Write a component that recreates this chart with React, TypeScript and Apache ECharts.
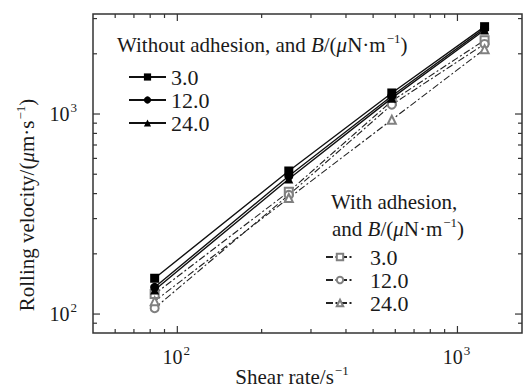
import React, { useEffect, useRef } from "react";
import * as echarts from "echarts";

// ---- data ----
const shearRate = [83, 250, 583, 1250];
const withoutAdhesion3 = [151, 519, 1274, 2733];
const withoutAdhesion12 = [136, 490, 1230, 2680];
const withoutAdhesion24 = [132, 473, 1200, 2630];
const withAdhesion3 = [126, 409, 1161, 2340];
const withAdhesion12 = [107, 394, 1113, 2240];
const withAdhesion24 = [116, 380, 936, 2110];

const X_MIN = 50;
const X_MAX = 1700;
const Y_MIN = 80.4;
const Y_MAX = 3162;
const xMajorTicks = [100, 1000];
const xMinorTicks = [60, 70, 80, 90, 200, 300, 400, 500, 600, 700, 800, 900];
const yMajorTicks = [100, 1000];
const yMinorTicks = [90, 200, 300, 400, 500, 600, 700, 800, 900, 2000, 3000];

const FONT = "Liberation Serif";
const INK = "#1a1a1a";

const pair = (xs: number[], ys: number[]) => xs.map((x, i) => [x, ys[i]]);

let measureCtx: CanvasRenderingContext2D | null = null;
const measure = (font: string, text: string) => {
  if (!measureCtx) measureCtx = document.createElement("canvas").getContext("2d");
  if (!measureCtx) return text.length * 9;
  measureCtx.font = font;
  return measureCtx.measureText(text).width;
};

type Part = { t: string; it?: boolean; sup?: boolean };
const SIZE = 21;
const SUP = 13;
const fontOf = (p: Part) => `${p.it ? "italic " : ""}${p.sup ? SUP : SIZE}px ${FONT}`;

// A line of text made of plain runs, with italic letters and superscripts
const textRun = (x: number, y: number, parts: Part[], center = false, rotation = 0) => {
  const widths = parts.map((p) => measure(fontOf(p), p.t) + (p.sup ? 1 : 0));
  const total = widths.reduce((a, b) => a + b, 0);
  let cx = center ? -total / 2 : 0;
  const children = parts.map((p, i) => {
    const c = {
      type: "text",
      x: cx + (p.sup ? 1 : 0),
      y: p.sup ? -7 : 0,
      style: { text: p.t, font: fontOf(p), fill: INK, verticalAlign: "middle" },
    };
    cx += widths[i];
    return c;
  });
  return { type: "group", x, y, rotation, children };
};

export default function App() {
  const ref = useRef<HTMLDivElement>(null);
  useEffect(() => {
    if (!ref.current) return;
    const chart = echarts.init(ref.current, undefined, { renderer: "svg" });

    const tickData: number[][] = [
      ...xMajorTicks.map((v) => [v, Y_MIN, 0]),
      ...xMinorTicks.map((v) => [v, Y_MIN, 1]),
      ...yMajorTicks.map((v) => [X_MIN, v, 2]),
      ...yMinorTicks.map((v) => [X_MIN, v, 3]),
    ];

    const solid = (name: string, data: number[], symbol: string) => ({
      name,
      type: "line",
      data: pair(shearRate, data),
      symbol,
      symbolSize: 9,
      showSymbol: true,
      itemStyle: { color: "#000" },
      lineStyle: { color: "#111", width: 1.4, type: "solid" },
      z: 3,
    });
    const dashed = (name: string, data: number[], symbol: string) => ({
      name,
      type: "line",
      data: pair(shearRate, data),
      symbol,
      symbolSize: 8,
      showSymbol: true,
      itemStyle: { color: "#808080", borderWidth: 1 },
      lineStyle: { color: "#222", width: 1.1, type: [7, 2.5, 2, 2.5] },
      z: 2,
    });

    const labelFont = `20px ${FONT}`;
    const supFont = `${SUP}px ${FONT}`;
    const powText = (v: number) => String(Math.round(Math.log10(v)));

    chart.setOption({
      animation: false,
      backgroundColor: "#fff",
      textStyle: { fontFamily: FONT },
      grid: {
        left: 93,
        right: 4,
        top: 14,
        bottom: 56,
        show: true,
        borderColor: "#333",
        borderWidth: 1.5,
        backgroundColor: "transparent",
      },
      xAxis: {
        type: "log",
        logBase: 10,
        min: X_MIN,
        max: X_MAX,
        axisLine: { show: false },
        axisTick: { show: false },
        axisLabel: { show: false },
        splitLine: { show: false },
      },
      yAxis: {
        type: "log",
        logBase: 10,
        min: Y_MIN,
        max: Y_MAX,
        axisLine: { show: false },
        axisTick: { show: false },
        axisLabel: { show: false },
        splitLine: { show: false },
      },
      legend: [
        {
          data: ["without 3.0", "without 12.0", "without 24.0"],
          orient: "vertical",
          left: 128,
          top: 66,
          padding: 0,
          itemGap: 1,
          itemWidth: 37,
          itemHeight: 9,
          formatter: (n: string) => n.split(" ")[1],
          textStyle: { fontFamily: FONT, fontSize: 22, color: INK },
          selectedMode: false,
        },
        {
          data: ["with 3.0", "with 12.0", "with 24.0"],
          orient: "vertical",
          left: 325,
          top: 246,
          padding: 0,
          itemGap: 1,
          itemWidth: 28,
          itemHeight: 8,
          formatter: (n: string) => "\u00a0\u00a0" + n.split(" ")[1],
          textStyle: { fontFamily: FONT, fontSize: 22, color: INK },
          selectedMode: false,
        },
      ],
      graphic: [
        textRun(117, 45, [
          { t: "Without adhesion, and " },
          { t: "B", it: true },
          { t: "/(" },
          { t: "μ", it: true },
          { t: "N·m" },
          { t: "−1", sup: true },
          { t: ")" },
        ]),
        textRun(331, 202, [{ t: "With adhesion," }]),
        textRun(332, 229, [
          { t: "and " },
          { t: "B", it: true },
          { t: "/(" },
          { t: "μ", it: true },
          { t: "N·m" },
          { t: "−1", sup: true },
          { t: ")" },
        ]),
        textRun(292, 377, [{ t: "Shear rate/s" }, { t: "−1", sup: true }], true),
        textRun(
          27,
          205,
          [{ t: "Rolling velocity/(" }, { t: "μ", it: true }, { t: "m·s" }, { t: "−1", sup: true }, { t: ")" }],
          true,
          Math.PI / 2
        ),
      ],
      series: [
        solid("without 3.0", withoutAdhesion3, "rect"),
        solid("without 12.0", withoutAdhesion12, "circle"),
        solid("without 24.0", withoutAdhesion24, "triangle"),
        dashed("with 3.0", withAdhesion3, "emptyRect"),
        dashed("with 12.0", withAdhesion12, "emptyCircle"),
        dashed("with 24.0", withAdhesion24, "emptyTriangle"),
        {
          name: "ticks",
          type: "custom",
          silent: true,
          clip: false,
          z: 10,
          dimensions: ["x", "y", "kind"],
          encode: { x: 0, y: 1 },
          data: tickData,
          renderItem: (params: any, api: any) => {
            const kind = api.value(2);
            const p = api.coord([api.value(0), api.value(1)]);
            const cs = params.coordSys;
            const len = kind % 2 === 0 ? 7 : 4;
            const style = { stroke: "#333", lineWidth: 1.2 };
            if (kind < 2) {
              const b = cs.y + cs.height;
              const children: any[] = [
                { type: "line", shape: { x1: p[0], y1: b, x2: p[0], y2: b - len }, style },
                { type: "line", shape: { x1: p[0], y1: cs.y, x2: p[0], y2: cs.y + len }, style },
              ];
              if (kind === 0) {
                const e = powText(api.value(0));
                const w10 = measure(labelFont, "10");
                const ws = measure(supFont, e) + 1;
                const start = p[0] - (w10 + ws) / 2 - 1;
                children.push(
                  { type: "text", x: start, y: b + 24, style: { text: "10", font: labelFont, fill: INK, verticalAlign: "middle" } },
                  { type: "text", x: start + w10 + 1, y: b + 17, style: { text: e, font: supFont, fill: INK, verticalAlign: "middle" } }
                );
              }
              return { type: "group", children };
            }
            const r = cs.x + cs.width;
            const children: any[] = [
              { type: "line", shape: { x1: cs.x, y1: p[1], x2: cs.x + len, y2: p[1] }, style },
              { type: "line", shape: { x1: r, y1: p[1], x2: r - len, y2: p[1] }, style },
            ];
            if (kind === 2) {
              const e = powText(api.value(1));
              const ws = measure(supFont, e);
              const right = cs.x - 16;
              children.push(
                { type: "text", x: right - ws - 1, y: p[1], style: { text: "10", font: labelFont, fill: INK, align: "right", verticalAlign: "middle" } },
                { type: "text", x: right - ws, y: p[1] - 7, style: { text: e, font: supFont, fill: INK, verticalAlign: "middle" } }
              );
            }
            return { type: "group", children };
          },
        },
      ],
    });
    return () => chart.dispose();
  }, []);
  return (
    <div
      ref={ref}
      style={{ position: "fixed", left: 0, top: 0, width: 526, height: 389 }}
    />
  );
}
